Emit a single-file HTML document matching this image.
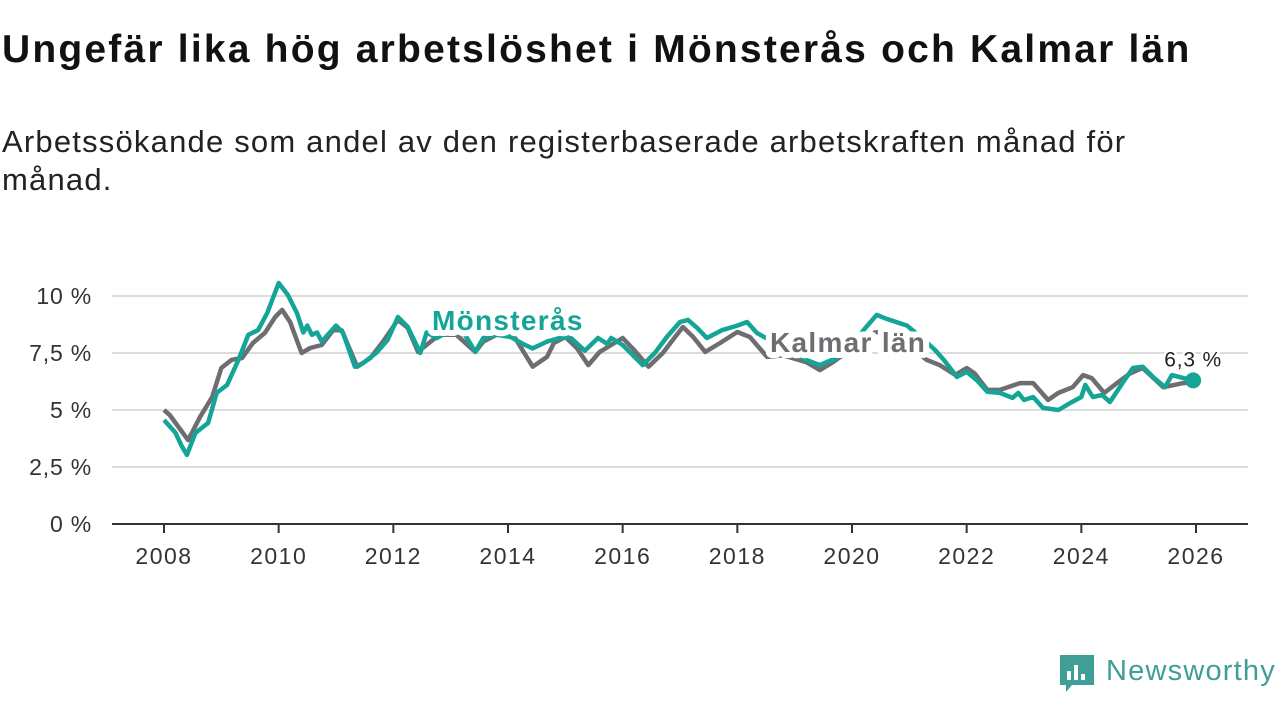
<!DOCTYPE html>
<html><head><meta charset="utf-8">
<style>
body{margin:0;width:1280px;height:720px;background:#fff;font-family:"Liberation Sans","DejaVu Sans",sans-serif;overflow:hidden;position:relative}
h1{position:absolute;left:2px;top:28px;margin:0;font-size:39px;font-weight:bold;color:#111;letter-spacing:2.2px;white-space:nowrap}
p.sub{position:absolute;left:2px;top:123px;margin:0;font-size:31px;line-height:38px;color:#222;width:1260px;letter-spacing:1.2px;white-space:nowrap}
svg{position:absolute;left:0;top:0}
</style></head><body>
<h1>Ungefär lika hög arbetslöshet i Mönsterås och Kalmar län</h1>
<p class="sub">Arbetssökande som andel av den registerbaserade arbetskraften månad för<br>månad.</p>
<svg id="chart" width="1280" height="720"></svg>
<div style="position:absolute;left:1060px;top:655px;width:220px;height:40px">
<svg width="36" height="38" style="position:absolute;left:0;top:0"><path d="M0 0H34V30H12L6 37V30H0Z" fill="#3f9e96"/><rect x="7" y="16" width="4" height="9" fill="#fff"/><rect x="14" y="10" width="4" height="15" fill="#fff"/><rect x="21" y="19" width="4" height="6" fill="#fff"/></svg>
<span style="position:absolute;left:46px;top:0px;font-size:29px;color:#3f9e96;letter-spacing:1.2px">Newsworthy</span>
</div>
<script>
const yTicks=[0,2.5,5,7.5,10];
const yTickLabels=["0 %","2,5 %","5 %","7,5 %","10 %"];
const xTicks=[2008,2010,2012,2014,2016,2018,2020,2022,2024,2026];
const monsYears=[2008.0,2008.2,2008.3,2008.4,2008.55,2008.77,2008.92,2009.1,2009.3,2009.47,2009.64,2009.8,2010.0,2010.16,2010.32,2010.43,2010.5,2010.58,2010.67,2010.75,2011.0,2011.12,2011.33,2011.47,2011.7,2011.9,2012.08,2012.25,2012.47,2012.58,2012.76,2013.0,2013.25,2013.43,2013.57,2013.8,2014.05,2014.26,2014.43,2014.68,2014.9,2015.08,2015.34,2015.57,2015.73,2015.8,2016.0,2016.35,2016.56,2016.77,2017.0,2017.14,2017.3,2017.47,2017.73,2018.0,2018.17,2018.34,2018.5,2018.8,2019.0,2019.2,2019.44,2019.73,2020.0,2020.2,2020.43,2020.6,2020.96,2021.2,2021.45,2021.6,2021.83,2022.0,2022.18,2022.36,2022.58,2022.8,2022.9,2023.0,2023.16,2023.33,2023.6,2023.8,2024.0,2024.07,2024.2,2024.36,2024.5,2024.73,2024.9,2025.07,2025.25,2025.46,2025.58,2025.78,2025.95];
const monsValues=[4.56,4.0,3.46,3.03,4.0,4.43,5.75,6.1,7.2,8.3,8.5,9.25,10.57,10.05,9.25,8.4,8.7,8.3,8.4,8.0,8.7,8.4,6.9,7.05,7.5,8.07,9.08,8.65,7.5,8.4,8.16,8.5,8.3,7.55,8.16,8.3,8.2,7.9,7.7,8.0,8.16,8.2,7.6,8.16,7.9,8.16,7.85,6.97,7.5,8.2,8.86,8.95,8.6,8.16,8.5,8.7,8.86,8.38,8.16,7.7,7.5,7.2,6.97,7.28,7.8,8.5,9.17,9.0,8.7,8.2,7.63,7.2,6.45,6.67,6.3,5.8,5.75,5.53,5.75,5.44,5.57,5.09,5.0,5.3,5.57,6.1,5.57,5.66,5.35,6.23,6.84,6.9,6.45,6.0,6.53,6.4,6.3];
const kalYears=[2008.0,2008.1,2008.42,2008.63,2008.84,2009.0,2009.18,2009.36,2009.55,2009.76,2009.94,2010.06,2010.2,2010.4,2010.55,2010.75,2010.95,2011.1,2011.37,2011.6,2011.82,2012.08,2012.25,2012.43,2012.8,2013.1,2013.43,2013.57,2013.8,2014.07,2014.43,2014.68,2014.8,2015.0,2015.2,2015.4,2015.6,2015.8,2016.0,2016.2,2016.45,2016.7,2016.9,2017.05,2017.23,2017.44,2017.7,2018.0,2018.22,2018.52,2018.8,2019.2,2019.44,2019.67,2020.0,2020.4,2020.8,2021.24,2021.3,2021.53,2021.8,2022.0,2022.14,2022.36,2022.58,2022.93,2023.16,2023.42,2023.6,2023.85,2024.03,2024.18,2024.4,2024.62,2024.85,2025.07,2025.43,2025.78,2025.95];
const kalValues=[5.0,4.78,3.68,4.7,5.57,6.84,7.2,7.28,7.94,8.38,9.08,9.39,8.86,7.5,7.72,7.85,8.5,8.5,6.9,7.28,8.0,8.95,8.6,7.55,8.3,8.3,7.55,8.0,8.3,8.38,6.9,7.33,7.94,8.2,7.72,6.97,7.55,7.85,8.16,7.63,6.9,7.5,8.16,8.64,8.2,7.55,7.94,8.42,8.2,7.33,7.4,7.1,6.75,7.1,7.7,8.4,8.5,7.33,7.2,6.97,6.54,6.84,6.6,5.88,5.88,6.18,6.18,5.44,5.75,6.0,6.53,6.4,5.75,6.18,6.6,6.84,6.0,6.18,6.23];
const NS="http://www.w3.org/2000/svg";
const svg=document.getElementById('chart');
const X=y=>164+(y-2008)*(1032/18);
const Y=v=>524-v*22.8;
function mk(t,a,p){const e=document.createElementNS(NS,t);for(const k in a)e.setAttribute(k,a[k]);(p||svg).appendChild(e);return e;}
yTicks.forEach((v,i)=>{
  if(v>0){const g=mk('line',{x1:112,x2:1248,y1:Y(v),y2:Y(v),stroke:'#dcdcdc','stroke-width':2});
  
  }
  const t=mk('text',{x:92,y:Y(v)+8,'text-anchor':'end','font-size':23,'letter-spacing':0.8,fill:'#333'});
  t.textContent=yTickLabels[i];
  
  
});
const ax=mk('line',{x1:112,x2:1248,y1:524,y2:524,stroke:'#333','stroke-width':2});


xTicks.forEach(yr=>{
  const tk=mk('line',{x1:X(yr),x2:X(yr),y1:524,y2:533,stroke:'#333','stroke-width':2});
  
  
  const t=mk('text',{x:X(yr),y:564,'text-anchor':'middle','font-size':23,'letter-spacing':1.5,fill:'#333'});
  t.textContent=yr;
  
  
});
function pts(xs,vs){return xs.map((x,i)=>X(x).toFixed(1)+','+Y(vs[i]).toFixed(1)).join(' ');}
const kl=mk('polyline',{points:pts(kalYears,kalValues),fill:'none',stroke:'#6e6e72','stroke-width':4.5,'stroke-linejoin':'round'});


const ml=mk('polyline',{points:pts(monsYears,monsValues),fill:'none',stroke:'#14a597','stroke-width':4.5,'stroke-linejoin':'round'});


const lm=mk('text',{x:432,y:330,'font-size':28,'letter-spacing':1.3,'font-weight':'bold',fill:'#14a597',stroke:'#fff','stroke-width':12,'paint-order':'stroke','stroke-linejoin':'round'});
lm.textContent='Mönsterås';


const lk=mk('text',{x:770,y:352,'font-size':28,'letter-spacing':1.3,'font-weight':'bold',fill:'#6e6e72',stroke:'#fff','stroke-width':12,'paint-order':'stroke','stroke-linejoin':'round'});
lk.textContent='Kalmar län';


const li=monsYears.length-1;
const dot=mk('circle',{cx:X(monsYears[li]),cy:Y(monsValues[li]),r:8,fill:'#14a597'});


const lv=mk('text',{x:X(monsYears[li]),y:Y(monsValues[li])-14,'text-anchor':'middle','font-size':21,'letter-spacing':0.8,fill:'#222',stroke:'#fff','stroke-width':5,'paint-order':'stroke'});
lv.textContent='6,3 %';


</script>
</body></html>
